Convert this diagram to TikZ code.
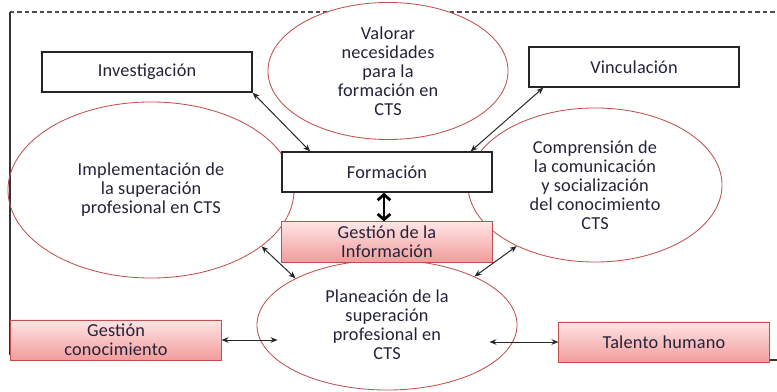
\documentclass[tikz,border=0pt]{standalone}
\usepackage{fontspec}
\setmainfont[LetterSpace=1]{Carlito}
\usetikzlibrary{shapes.geometric,arrows.meta}
\definecolor{txtcol}{HTML}{23233A}
\definecolor{elipred}{HTML}{C0504D}
\definecolor{pinktop}{HTML}{FFE4E4}
\definecolor{pinkbot}{HTML}{F29C9C}
\tikzset{
  every node/.style={font=\fontsize{13}{13.5}\selectfont, text=txtcol},
  box/.style={draw=black!85, line width=0.9pt, rectangle, minimum width=5.25cm, minimum height=1cm, fill=white, align=center},
  pinkbox/.style={draw=elipred, line width=0.7pt, rectangle, minimum width=5.25cm, minimum height=1cm, top color=pinktop, bottom color=pinkbot, align=center, inner sep=1pt},
  elip/.style={draw=elipred, line width=0.6pt, ellipse, inner sep=0pt, align=center},
  dbl/.style={{Stealth[length=5pt,width=4pt]}-{Stealth[length=5pt,width=4pt]}, line width=0.7pt, draw=black!85},
  dblthick/.style={{Straight Barb[length=4pt,width=9pt]}-{Straight Barb[length=4pt,width=9pt]}, line width=2pt}
}

\begin{document}
\begin{tikzpicture}[x=0.025cm,y=-0.025cm]
  \useasboundingbox (0,0) rectangle (777,392);
  % frame
  \draw[black!70, line width=0.8pt, dash pattern=on 3.2pt off 2.1pt] (10,12) -- (777,12);
  \draw[black!80, line width=1pt] (10,12) -- (10,355);
  \draw[black!80, line width=1pt] (752,360) -- (777,360);
  % ellipses
  \node[elip, fill=white, minimum width=6cm, minimum height=3.425cm] (valorar) at (388,71) {Valorar\\necesidades\\para la\\formación en\\CTS};
  \node[elip, minimum width=7.15cm, minimum height=4.4cm] (implem) at (151,190) {Implementación de\\la superación\\profesional en CTS};
  \node[elip, minimum width=6.35cm, minimum height=3.85cm] (comprension) at (595,185) {Comprensión de\\la comunicación\\y socialización\\del conocimiento\\CTS};
  \node[elip, minimum width=6.5cm, minimum height=3.25cm] (planeacion) at (387,325) {Planeación de la\\superación\\profesional en\\CTS};
  % boxes
  \node[box] (investigacion) at (147,72) {Investigación};
  \node[box] (vinculacion) at (634,67) {Vinculación};
  \node[box] (formacion) at (387,172) {Formación};
  \node[pinkbox] (gestinfo) at (387,242) {Gestión de la\\Información};
  \node[pinkbox] (gestcon) at (116,340) {Gestión\\conocimiento};
  \node[pinkbox] (talento) at (664,342) {Talento humano};
  % Draw the connectors
  \draw[dbl] (investigacion.south east) -- ([xshift=0.72cm]formacion.north west);
  \draw[dbl] ([xshift=0.375cm]vinculacion.south west) -- ([xshift=-0.55cm]formacion.north east);
  \draw[dblthick] ([xshift=-0.075cm]formacion.south) -- ([xshift=-0.075cm]gestinfo.north);
  \draw[dbl] (implem.-27) -- (planeacion.153);
  \draw[dbl] (comprension.218) -- (planeacion.29);
  \draw[dbl] (gestcon.east) -- ([xshift=0.525cm]gestcon.east -| planeacion.west);
  \draw[dbl] (talento.west) -- ([xshift=-0.7cm]talento.west -| planeacion.east);
\end{tikzpicture}
\end{document}
